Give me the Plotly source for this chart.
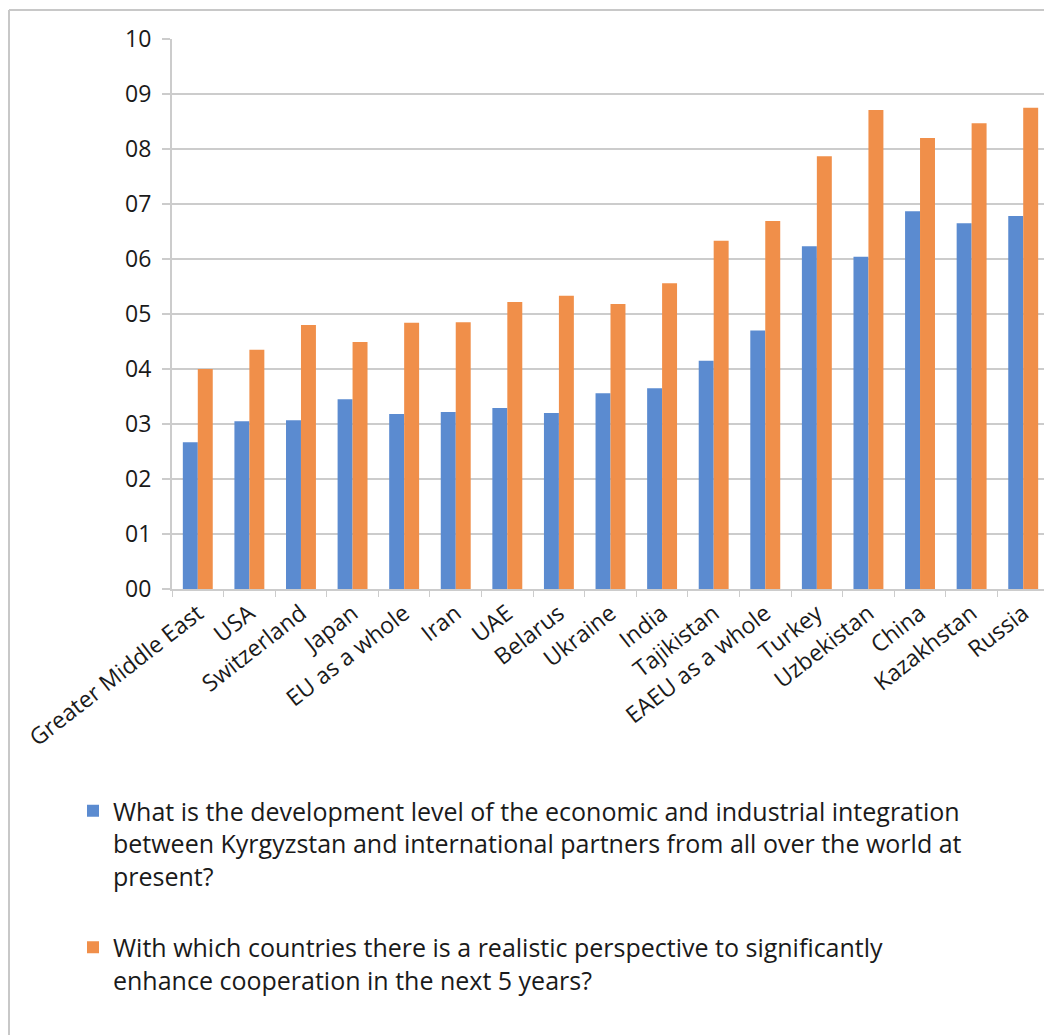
import plotly.graph_objects as go

# Countries on the category axis
countries = [
    "Greater Middle East", "USA", "Switzerland", "Japan", "EU as a whole",
    "Iran", "UAE", "Belarus", "Ukraine", "India", "Tajikistan",
    "EAEU as a whole", "Turkey", "Uzbekistan", "China", "Kazakhstan", "Russia",
]

# Current integration level (blue)
current_level = [2.67, 3.05, 3.07, 3.45, 3.18, 3.22, 3.29, 3.20, 3.56, 3.65,
                 4.15, 4.70, 6.23, 6.04, 6.87, 6.65, 6.78]

# Realistic perspective in next 5 years (orange)
perspective = [4.00, 4.35, 4.80, 4.49, 4.84, 4.85, 5.22, 5.33, 5.18, 5.56,
               6.33, 6.69, 7.87, 8.71, 8.20, 8.47, 8.75]

y_ticks = list(range(0, 11))
y_tick_text = [f"{v:02d}" for v in y_ticks]

series_names = [
    "What is the development level of the economic and industrial integration<br>"
    "between Kyrgyzstan and international partners from all over the world at<br>"
    "present?",
    "With which countries there is a realistic perspective to significantly<br>"
    "enhance cooperation in the next 5 years?",
]

BLUE = "#5b8bd0"
ORANGE = "#f08f4a"
GRID = "#cccccc"
TEXT = "#1a1a1a"
FONT = "Open Sans"

# page has an 8px body margin, so the figure is sized/shifted to compensate
W, H = 1044, 1027
L, T, R, B = 164, 31, 3, 446
plot_w = W - L - R
plot_h = H - T - B

fig = go.Figure()
fig.add_trace(go.Bar(
    x=countries, y=current_level, name=series_names[0],
    marker=dict(color=BLUE, line=dict(width=0)), legendgroup="a",
))
fig.add_trace(go.Bar(
    x=countries, y=perspective, name=series_names[1],
    marker=dict(color=ORANGE, line=dict(width=0)), legendgroup="b",
))

# outer frame (top and left edges visible in the source)
frame_x = (1 - L) / plot_w
frame_y = 1 + (T - 2) / plot_h
fig.add_shape(type="line", xref="paper", yref="paper",
              x0=frame_x, x1=1.02, y0=frame_y, y1=frame_y,
              line=dict(color="#c8c8c8", width=2))
fig.add_shape(type="line", xref="paper", yref="paper",
              x0=frame_x, x1=frame_x, y0=frame_y, y1=-0.85,
              line=dict(color="#c8c8c8", width=2))

fig.update_layout(
    width=W, height=H,
    margin=dict(l=L, r=R, t=T, b=B),
    plot_bgcolor="white", paper_bgcolor="white",
    barmode="group", bargap=0.42, bargroupgap=0,
    font=dict(family=FONT, size=19, color=TEXT),
    showlegend=True,
    legend=dict(
        x=(65 - L) / plot_w, y=-(788 - 8 - (T + plot_h)) / plot_h,
        xanchor="left", yanchor="top", valign="top",
        traceorder="grouped", tracegroupgap=36,
        font=dict(family=FONT, size=25, color=TEXT),
        bgcolor="rgba(0,0,0,0)",
    ),
    xaxis=dict(
        tickangle=-38, tickfont=dict(size=23, color=TEXT),
        showline=True, linecolor=GRID, linewidth=2,
        ticks="outside", tickson="boundaries", ticklen=6, tickcolor=GRID,
        showgrid=False,
    ),
    yaxis=dict(
        range=[0, 10], tickvals=y_ticks, ticktext=y_tick_text,
        tickfont=dict(size=23, color=TEXT),
        showline=True, linecolor=GRID, linewidth=2,
        showgrid=True, gridcolor=GRID, gridwidth=2,
        ticks="outside", ticklen=8, tickcolor=GRID, tickwidth=2,
        zeroline=False, ticklabelstandoff=6,
    ),
)

fig.write_html("out.html")
